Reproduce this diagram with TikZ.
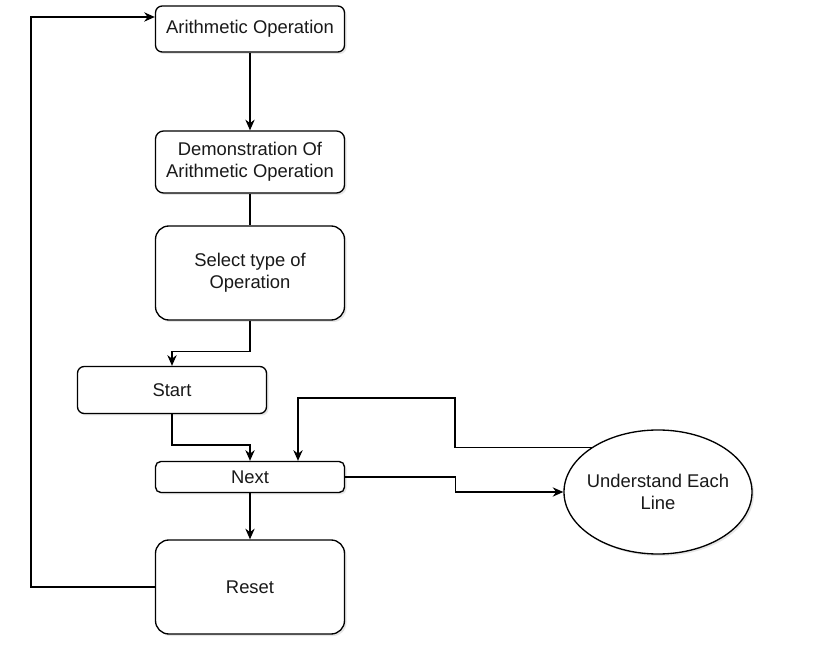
\documentclass[tikz,border=0pt]{standalone}
\usepackage{fontspec}
\setmainfont{Liberation Sans}
\usetikzlibrary{shapes.geometric, arrows.meta, shadows}

\begin{document}
\begin{tikzpicture}[x=0.75pt, y=-0.75pt,
  box/.style={draw, line width=1pt, fill=white, minimum width=141.75pt,
    align=center, font=\fontsize{13.8}{16.5}\selectfont, text=black!90,
    drop shadow={opacity=0.2, shadow xshift=1.5pt, shadow yshift=-1.5pt}},
  flow/.style={line width=1pt, -{Stealth[length=8pt, width=7pt]}},
  link/.style={line width=1pt}]
\useasboundingbox (0,0) rectangle (819,663);

\node[box, rounded corners=5pt, minimum height=34.5pt] (arith) at (250,29) {Arithmetic Operation};
\node[box, rounded corners=6pt, minimum height=46.5pt] (demo) at (250,162) {Demonstration Of\\Arithmetic Operation};
\node[box, rounded corners=10pt, minimum height=70.5pt] (select) at (250,273) {Select type of\\Operation};
\node[box, rounded corners=5pt, minimum height=35.25pt] (start) at (172,390) {Start};
\node[box, rounded corners=4pt, minimum height=23.25pt, inner ysep=1pt] (next) at (250,477) {Next};
\node[box, rounded corners=10pt, minimum height=70.5pt] (reset) at (250,587) {Reset};
\node[box, ellipse, inner xsep=-4pt, minimum width=141pt, minimum height=93pt] (line) at (658,492) {Understand Each\\Line};

\draw[flow] (arith) -- (demo);
\draw[link] (demo) -- (select);
\draw[flow] (select.south) -- ++(0,31) -| (start.north);
\draw[flow] (start.south) -- ++(0,31) -| (next.north);
\draw[flow] (next) -- (reset);
\draw[flow] (next.east) -- ++(110,0) |- (line.west);
\draw[flow] (line.146) -| (455,398) -| ([xshift=36pt]next.north);
\draw[flow] (reset.west) -| (31,17) -- ([yshift=9pt]arith.west);
\end{tikzpicture}
\end{document}
